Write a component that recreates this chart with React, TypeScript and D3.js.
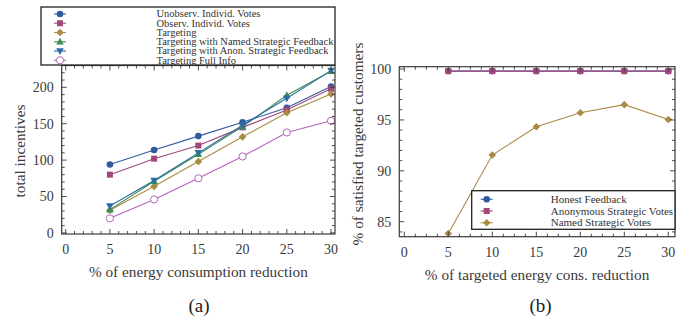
import * as d3 from 'd3';

// x positions (% reduction)
const xs = [5, 10, 15, 20, 25, 30];

// panel (a): total incentives
const unobservVotes = [94, 114, 133, 152, 172, 201];
const observVotes = [80, 102, 120, 145, 169, 198];
const targeting = [31, 64, 98, 132, 165, 191];
const targetingNamed = [32, 71, 108, 146, 189, 222];
const targetingAnon = [37, 72, 110, 148, 185, 223];
const targetingFull = [20, 46, 75, 105, 138, 154];

// panel (b): % satisfied targeted customers
const honestFeedback = [99.8, 99.8, 99.8, 99.8, 99.8, 99.8];
const anonStrategic = [99.8, 99.8, 99.8, 99.8, 99.8, 99.8];
const namedStrategic = [83.85, 91.55, 94.33, 95.7, 96.5, 95.05];

const xTicks = [0, 5, 10, 15, 20, 25, 30];
const yTicksA = [0, 50, 100, 150, 200];
const yTicksB = [85, 90, 95, 100];

type Marker = 'circle' | 'square' | 'diamond' | 'triUp' | 'triDown' | 'ring';
interface Series {
  name: string;
  values: number[];
  color: string;
  marker: Marker;
}

const seriesA: Series[] = [
  { name: 'Unobserv. Individ. Votes', values: unobservVotes, color: '#2f5b9e', marker: 'circle' },
  { name: 'Observ. Individ. Votes', values: observVotes, color: '#a3477a', marker: 'square' },
  { name: 'Targeting', values: targeting, color: '#a98b44', marker: 'diamond' },
  { name: 'Targeting with Named Strategic Feedback', values: targetingNamed, color: '#3e8e52', marker: 'triUp' },
  { name: 'Targeting with Anon. Strategic Feedback', values: targetingAnon, color: '#2b6ba6', marker: 'triDown' },
  { name: 'Targeting Full Info', values: targetingFull, color: '#b566b8', marker: 'ring' },
];

const seriesB: Series[] = [
  { name: 'Honest Feedback', values: honestFeedback, color: '#2f5b9e', marker: 'circle' },
  { name: 'Anonymous Strategic Votes', values: anonStrategic, color: '#a3477a', marker: 'square' },
  { name: 'Named Strategic Votes', values: namedStrategic, color: '#a98b44', marker: 'diamond' },
];

const FONT = 'Liberation Serif, Times New Roman, Times, serif';
const INK = '#3a3a3a';

function MarkerShape({ x, y, m, color }: { x: number; y: number; m: Marker; color: string }) {
  switch (m) {
    case 'circle':
      return <circle cx={x} cy={y} r={3.3} fill={color} />;
    case 'ring':
      return <circle cx={x} cy={y} r={3.6} fill="white" stroke={color} strokeWidth={1} />;
    case 'square':
      return <rect x={x - 3} y={y - 3} width={6} height={6} fill={color} />;
    case 'diamond':
      return <path d={`M${x},${y - 3.8}L${x + 3.8},${y}L${x},${y + 3.8}L${x - 3.8},${y}Z`} fill={color} />;
    case 'triUp':
      return <path d={`M${x},${y - 4}L${x + 3.8},${y + 2.8}L${x - 3.8},${y + 2.8}Z`} fill={color} />;
    case 'triDown':
      return <path d={`M${x},${y + 4}L${x + 3.8},${y - 2.8}L${x - 3.8},${y - 2.8}Z`} fill={color} />;
  }
}

interface PanelProps {
  x0: number; x1: number; y0: number; y1: number;
  xDomain: [number, number];
  yDomain: [number, number];
  yTicks: number[];
  yMinorStep: number;
  xMinorStep: number;
  series: Series[];
  xLabel: string;
  yLabel: string;
  yLabelX: number;
  yLabelY: number;
  caption: string;
  captionX: number;
}

function Panel(p: PanelProps) {
  const x = d3.scaleLinear().domain(p.xDomain).range([p.x0, p.x1]);
  const y = d3.scaleLinear().domain(p.yDomain).range([p.y1, p.y0]);
  const line = d3
    .line<number>()
    .x((_, i) => x(xs[i]))
    .y((d) => y(d));

  const xMinor = d3.range(0, 30.0001, p.xMinorStep);
  const yMinor = d3.range(
    Math.ceil(p.yDomain[0] / p.yMinorStep) * p.yMinorStep,
    p.yDomain[1] + 1e-6,
    p.yMinorStep,
  );
  const isMajor = (v: number, step: number) => Math.abs(v / step - Math.round(v / step)) < 1e-6;

  return (
    <g>
      {/* lines */}
      {p.series.map((s) => (
        <path key={s.name} d={line(s.values) ?? ''} fill="none" stroke={s.color} strokeWidth={1.1} />
      ))}
      {p.series.map((s) =>
        s.values.map((v, i) => (
          <MarkerShape key={s.name + i} x={x(xs[i])} y={y(v)} m={s.marker} color={s.color} />
        )),
      )}

      {/* frame */}
      <rect x={p.x0} y={p.y0} width={p.x1 - p.x0} height={p.y1 - p.y0} fill="none" stroke={INK} strokeWidth={1.2} />

      {/* x ticks, inward on bottom and top */}
      {xMinor.map((v) => {
        const len = isMajor(v, 5) ? 5 : 3;
        const px = x(v);
        return (
          <g key={'xt' + v} stroke={INK} strokeWidth={0.9}>
            <line x1={px} x2={px} y1={p.y1} y2={p.y1 - len} />
            <line x1={px} x2={px} y1={p.y0} y2={p.y0 + len} />
          </g>
        );
      })}
      {yMinor.map((v) => {
        const major = p.yTicks.some((t) => Math.abs(t - v) < 1e-6);
        const len = major ? 5 : 3;
        const py = y(v);
        return (
          <g key={'yt' + v} stroke={INK} strokeWidth={0.9}>
            <line x1={p.x0} x2={p.x0 + len} y1={py} y2={py} />
            <line x1={p.x1} x2={p.x1 - len} y1={py} y2={py} />
          </g>
        );
      })}

      {/* tick labels */}
      {xTicks.map((t) => (
        <text key={'xl' + t} x={x(t)} y={p.y1 + 20} textAnchor="middle" fontSize={14} fill={INK} fontFamily={FONT}>
          {t}
        </text>
      ))}
      {p.yTicks.map((t) => (
        <text key={'yl' + t} x={p.x0 - 8} y={y(t)} dy="0.35em" textAnchor="end" fontSize={14} fill={INK} fontFamily={FONT}>
          {t}
        </text>
      ))}

      {/* axis titles */}
      <text x={(p.x0 + p.x1) / 2} y={p.y1 + 43} textAnchor="middle" fontSize={15.3} fill={INK} fontFamily={FONT}>
        {p.xLabel}
      </text>
      <text
        transform={`translate(${p.yLabelX},${p.yLabelY}) rotate(-90)`}
        textAnchor="middle"
        dy="0.35em"
        fontSize={15.3}
        fill={INK}
        fontFamily={FONT}
      >
        {p.yLabel}
      </text>
      <text x={p.captionX} y={312} textAnchor="middle" fontSize={19} fill="#222" fontFamily={FONT}>
        {p.caption}
      </text>
    </g>
  );
}

function Legend({
  series, bx, by, bw, bh, mx, tx, ty, dy, fs,
}: {
  series: Series[]; bx: number; by: number; bw: number; bh: number;
  mx: number; tx: number; ty: number; dy: number; fs: number;
}) {
  return (
    <g>
      <rect x={bx} y={by} width={bw} height={bh} fill="white" stroke="#222" strokeWidth={1.3} />
      {series.map((s, i) => {
        const yy = ty + i * dy;
        return (
          <g key={s.name}>
            <line x1={mx - 6} x2={mx + 6} y1={yy} y2={yy} stroke={s.color} strokeWidth={1.1} />
            <MarkerShape x={mx} y={yy} m={s.marker} color={s.color} />
            <text x={tx} y={yy} dy="0.33em" fontSize={fs} fill="#333" fontFamily={FONT}>
              {s.name}
            </text>
          </g>
        );
      })}
    </g>
  );
}

export default function App() {
  return (
    <svg
      width={691}
      height={325}
      style={{ position: 'absolute', left: 0, top: 0, background: 'white' }}
    >
      <Panel
        x0={61.7} x1={335} y0={65.5} y1={234}
        xDomain={[-0.45, 30.45]}
        yDomain={[-1.5, 230]}
        yTicks={yTicksA}
        yMinorStep={10}
        xMinorStep={1}
        series={seriesA}
        xLabel="% of energy consumption reduction"
        yLabel="total incentives"
        yLabelX={20}
        yLabelY={151}
        caption="(a)"
        captionX={199}
      />
      <Legend series={seriesA} bx={41} by={7} bw={294} bh={58} mx={60} tx={156.5} ty={14} dy={9.25} fs={10.5} />

      <Panel
        x0={399.3} x1={675} y0={66.7} y1={236.7}
        xDomain={[-0.57, 30.76]}
        yDomain={[83.53, 100.23]}
        yTicks={yTicksB}
        yMinorStep={1}
        xMinorStep={1.25}
        series={seriesB}
        xLabel="% of targeted energy cons. reduction"
        yLabel="% of satisfied targeted customers"
        yLabelX={358}
        yLabelY={144}
        caption="(b)"
        captionX={540.5}
      />
      <Legend series={seriesB} bx={471.7} by={190.7} bw={203.3} bh={38.6} mx={486.7} tx={550.7} ty={199.3} dy={11.7} fs={11} />
    </svg>
  );
}
